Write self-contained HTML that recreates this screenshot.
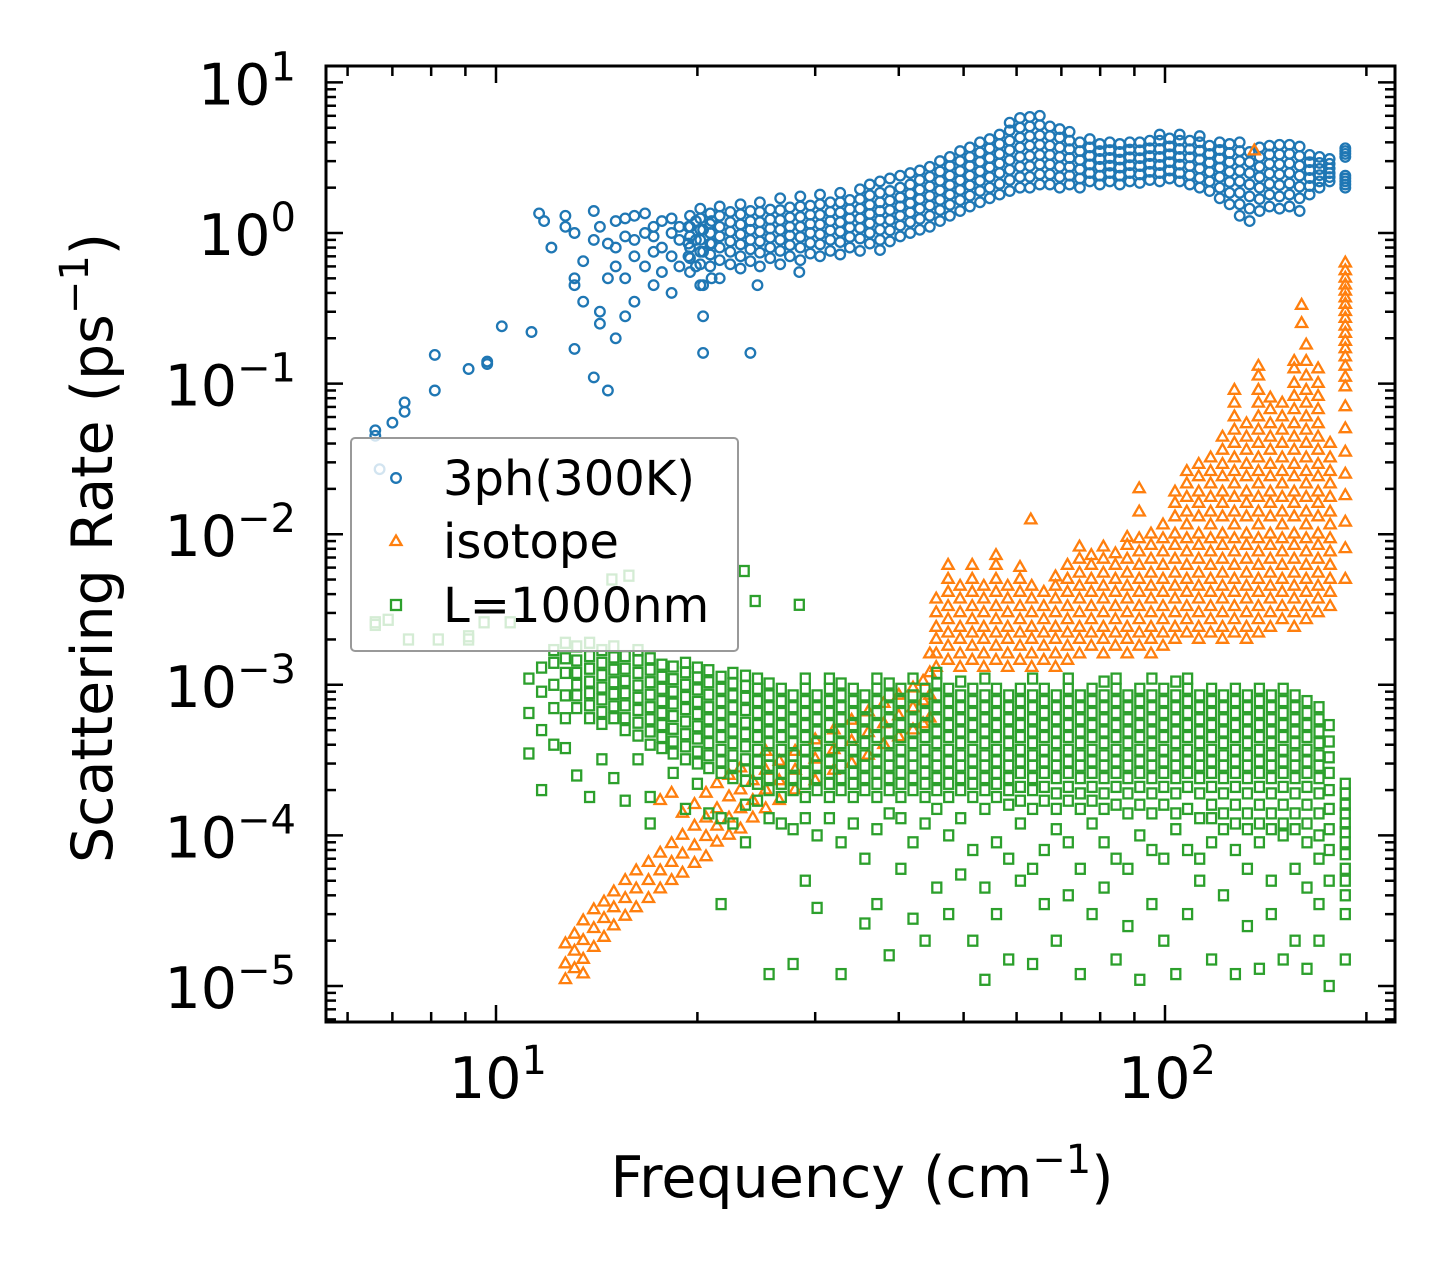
<!DOCTYPE html>
<html><head><meta charset="utf-8">
<style>
html,body{margin:0;padding:0;background:#fff;}
svg{display:block;font-family:"DejaVu Sans","Liberation Sans",sans-serif;}
</style></head>
<body>
<svg id="chart" width="1455" height="1272" viewBox="0 0 1455 1272" xmlns="http://www.w3.org/2000/svg">
<rect x="0" y="0" width="1455" height="1272" fill="#fff"/>
<g id="marks"></g>
<g id="axes"></g>
<g id="legend">
  <rect x="351" y="438" width="387" height="213" rx="4" fill="#fff" fill-opacity="0.8" stroke="#999" stroke-width="2"/>
  <circle cx="396" cy="478" r="4.8" fill="none" stroke="#1f77b4" stroke-width="2.3"/>
  <text x="443" y="495" font-size="48" fill="#000">3ph(300K)</text>
  <polygon points="396,535.5 401.5,545 390.5,545" fill="none" stroke="#ff7f0e" stroke-width="2.3"/>
  <text x="443" y="558" font-size="48" fill="#000">isotope</text>
  <rect x="391" y="600" width="10" height="10" fill="none" stroke="#2ca02c" stroke-width="2.3"/>
  <text x="443" y="622" font-size="48" fill="#000">L=1000nm</text>
</g>
<text x="862" y="1197" font-size="57" text-anchor="middle" fill="#000">Frequency (cm<tspan dy="-24" font-size="40">−1</tspan><tspan dy="24">)</tspan></text>
<text transform="translate(112,548) rotate(-90)" font-size="57" text-anchor="middle" fill="#000">Scattering Rate (ps<tspan dy="-24" font-size="40">−1</tspan><tspan dy="24">)</tspan></text>
</svg>
<script>
// ================= DATA (frequency cm^-1) =================
// 3ph, sparse low-frequency points (ps^-1)
const ph3SparseFreq = [6.6,6.7,7.0,7.3,8.1,9.1,9.7,10.2,11.3,11.6,11.8,12.1,12.7,13.1,13.5,14.0,14.3,14.7,15.1,15.6,16.1,16.7,17.2,17.7,18.3,18.8,19.4,19.9,20.4,21.0,24,24.6,28.4,37.5];
const ph3SparseRates = [[0.045,0.049],[0.027],[0.055],[0.065,0.075],[0.09,0.155],[0.125],[0.135,0.14],[0.24],[0.22],[1.35],[1.2],[0.8],[1.3,1.1],[0.45,0.5,0.17,1.0],[0.35,0.65],[1.4,0.11,0.9],[0.3,0.25,1.1],[0.09,0.5,0.85],[0.8,0.2,1.2,0.6],[1.25,0.5,0.28,0.95],[0.9,0.35,1.3,0.7],[1.35,0.6,1.0],[1.1,0.45,0.75,0.95],[0.8,1.2,0.55],[1.0,0.4,0.7,1.25],[0.6,0.9,1.1],[1.1,0.7,0.85],[0.9,0.6,1.2],[0.28,0.75,1.05,0.16,0.45],[1.2,0.5,0.85],[0.16],[0.45],[0.55],[0.77]];
// 3ph, dense band (ps^-1)
const ph3Freq = [19.5,20.2,20.9,21.6,22.4,23.2,24,24.8,25.7,26.6,
 27.5,28.5,29.5,30.5,31.6,32.7,33.8,35,36.2,37.5,
 38.8,40.2,41.6,43,44.5,46.1,47.7,49.4,51.1,52.9,
 54.7,56.6,58.6,60.7,62.8,65,67.3,69.6,72,74.6,
 77.2,79.9,82.7,85.6,88.6,91.7,94.9,98.2,101.6,105.2,
 108.9,112.7,116.6,120.7,124.9,129.3,133.8,138.5,143.3,148.3,
 153.5,158.9,164.5,170.2,176.2,186];
const ph3Rates = [
 [.55,.68,.8,.95,1.1,1.3],[.45,.62,.75,.9,1.05,1.25,1.45],[.6,.72,.85,1.0,1.15,1.35],[.5,.66,.8,.95,1.1,1.3,1.5],[.62,.75,.88,1.02,1.18,1.38],[.58,.7,.84,.98,1.14,1.33,1.55],[.65,.78,.9,1.05,1.2,1.4],[.6,.74,.88,1.02,1.18,1.38,1.6],[.68,.8,.93,1.07,1.23,1.43],[.62,.76,.9,1.05,1.22,1.42,1.7],
 [.7,.83,.96,1.1,1.27,1.48],[.66,.8,.94,1.1,1.28,1.5,1.75],[.73,.86,1.0,1.15,1.32,1.52],[.7,.84,.98,1.14,1.32,1.55,1.8],[.76,.9,1.04,1.2,1.38,1.6],[.72,.87,1.02,1.18,1.37,1.6,1.85],[.8,.94,1.09,1.25,1.44,1.66],[.76,.92,1.08,1.25,1.45,1.68,1.95],[.85,1.0,1.16,1.34,1.54,1.78,2.1],[.9,1.05,1.22,1.4,1.6,1.85,2.2],
 [.88,1.04,1.22,1.42,1.64,1.9,2.3],[.95,1.12,1.3,1.5,1.72,2.0,2.4],[1.0,1.18,1.37,1.58,1.82,2.1,2.5],[1.05,1.24,1.45,1.68,1.94,2.25,2.6],[1.1,1.3,1.52,1.76,2.04,2.36,2.75],[1.2,1.42,1.66,1.92,2.22,2.56,3.0],[1.3,1.54,1.8,2.08,2.4,2.78,3.2],[1.4,1.65,1.93,2.24,2.58,3.0,3.5],[1.5,1.77,2.07,2.4,2.78,3.2,3.7],[1.6,1.9,2.22,2.57,2.97,3.43,4.0],
 [1.7,2.0,2.35,2.73,3.15,3.65,4.2],[1.8,2.12,2.5,2.9,3.35,3.9,4.5],[1.9,2.25,2.63,3.05,3.55,4.1,4.8,5.4],[2.0,2.35,2.75,3.2,3.7,4.3,5.0,5.8],[2.0,2.36,2.78,3.25,3.8,4.4,5.1,5.9],[2.1,2.45,2.85,3.3,3.85,4.45,5.2,6.0],[2.1,2.45,2.85,3.3,3.8,4.4,5.1],[2.0,2.35,2.75,3.2,3.7,4.3,4.9],[2.1,2.4,2.75,3.15,3.6,4.1,4.7],[2.0,2.3,2.65,3.05,3.5,4.0],
 [2.2,2.5,2.85,3.25,3.7,4.2],[2.1,2.4,2.75,3.1,3.5,3.9],[2.2,2.5,2.8,3.15,3.55,4.0],[2.1,2.4,2.72,3.07,3.45,3.9],[2.2,2.5,2.82,3.18,3.58,4.0],[2.15,2.45,2.78,3.14,3.54,4.0],[2.25,2.55,2.88,3.24,3.65,4.1],[2.2,2.5,2.83,3.2,3.62,4.1,4.5],[2.3,2.6,2.95,3.33,3.76,4.25],[2.2,2.5,2.84,3.2,3.62,4.1,4.5],
 [2.1,2.42,2.78,3.18,3.6,4.1],[2.0,2.32,2.68,3.08,3.52,4.0,4.4],[1.9,2.2,2.55,2.93,3.35,3.8],[1.7,2.0,2.35,2.72,3.12,3.56,4.0],[1.55,1.85,2.18,2.55,2.96,3.4,3.9],[1.3,1.55,1.85,2.2,2.58,3.0,3.5,4.0],[1.2,1.45,1.75,2.1,2.5,2.95,3.45],[1.4,1.68,2.0,2.35,2.75,3.2,3.7],[1.5,1.8,2.12,2.48,2.88,3.32,3.8],[1.45,1.75,2.08,2.45,2.86,3.32,3.85],
 [1.5,1.8,2.13,2.5,2.9,3.35,3.85],[1.4,1.7,2.03,2.4,2.8,3.25,3.75],[1.8,2.05,2.32,2.62,2.95,3.3],[2.0,2.2,2.42,2.66,2.92,3.2],[2.2,2.35,2.5,2.68,2.88,3.1],[2.0,2.1,2.2,2.3,2.4,3.2,3.35,3.5,3.65]];

// isotope, low-frequency band (ps^-1)
const isoLowFreq = [12.7,13.1,13.5,14,14.5,15,15.6,16.2,16.9,17.6,18.3,19,19.8,20.6,21.4,22.3,23.2,24.2,25.3,26.5,28,30,32,34,36,38,40,42,43.5,44.5];
const isoLowRates = [[1.1e-5,1.4e-5,1.9e-5],[1.3e-5,1.7e-5,2.2e-5],[1.5e-5,2e-5,2.7e-5,1.2e-5],[1.8e-5,2.4e-5,3.2e-5],[2.1e-5,2.8e-5,3.6e-5],[2.5e-5,3.3e-5,4.2e-5],[2.9e-5,3.8e-5,5e-5],[3.3e-5,4.4e-5,5.8e-5],[3.8e-5,5e-5,6.6e-5],[4.4e-5,5.8e-5,7.6e-5,1.7e-4],[5e-5,6.6e-5,8.8e-5,1.9e-4],[5.6e-5,7.5e-5,1e-4,1.4e-4],[6.5e-5,8.5e-5,1.15e-4,1.6e-4],[7.2e-5,9.8e-5,1.3e-4,1.9e-4],[9e-5,1.15e-4,1.5e-4,2.2e-4],[1e-4,1.3e-4,1.8e-4,2.5e-4],[1.1e-4,1.5e-4,2e-4,2.8e-4],[1.3e-4,1.7e-4,2.3e-4],[1.5e-4,2e-4,2.7e-4,3.6e-4],[1.7e-4,2.3e-4,3.1e-4],[2e-4,2.7e-4,3.6e-4],[2.3e-4,3.2e-4,4.3e-4],[2.7e-4,3.7e-4,5e-4],[3e-4,4.2e-4,5.8e-4],[3.4e-4,4.8e-4,6.6e-4],[4e-4,5.5e-4,7.5e-4],[4.5e-4,6.2e-4,8.5e-4],[5e-4,7e-4,9.5e-4],[5.5e-4,7.8e-4,1.05e-3],[6e-4,8.5e-4,1.2e-3,1.6e-3]];
// isotope, high-frequency dense region (units of 1e-3 ps^-1)
const isoFreq = [45.5,47.4,49.4,51.5,53.6,55.9,58.2,60.7,63.2,65.9,
 68.6,71.5,74.5,77.6,80.9,84.3,87.8,91.5,95.3,99.3,
 103.5,107.8,112.3,117,121.9,127,132.4,137.9,143.7,149.7,
 156,162.6,169.4,176.5,186,
 63,136,160];
const isoRatesE3 = [
 [1.3,1.6,2.0,2.4,3.0,3.7],[1.45,1.8,2.2,2.7,3.3,4.1,5.0,6.2],[1.3,1.6,2.0,2.4,3.0,3.7,4.5],[1.45,1.8,2.2,2.7,3.3,4.1,5.0,6.2],[1.3,1.6,2.0,2.4,3.0,3.7,4.5],[1.45,1.8,2.2,2.7,3.3,4.1,5.0,6.2,7.2],[1.3,1.6,2.0,2.4,3.0,3.7,4.5],[1.45,1.8,2.2,2.7,3.3,4.1,5.0,6.0],[1.3,1.6,2.0,2.4,3.0,3.7,4.5],[1.45,1.8,2.2,2.7,3.3,4.1],
 [1.3,1.6,2.0,2.4,3.0,3.7,4.5,5.2],[1.45,1.8,2.2,2.7,3.3,4.1,5.0,6.2],[1.6,2.0,2.4,3.0,3.7,4.5,5.5,6.8,8.2],[1.8,2.2,2.7,3.3,4.1,5.0,6.2,7.2],[1.6,2.0,2.4,3.0,3.7,4.5,5.5,6.8,8.2],[1.8,2.2,2.7,3.3,4.1,5.0,6.2,7.4],[1.6,2.0,2.4,3.0,3.7,4.5,5.5,6.8,8.4,9.5],[1.8,2.2,2.7,3.3,4.1,5.0,6.2,7.6,9.3,14,20],[1.6,2.0,2.4,3.0,3.7,4.5,5.5,6.8,8.4,10],[1.8,2.2,2.7,3.3,4.1,5.0,6.2,7.6,9.3,11.5],
 [2.0,2.4,3.0,3.7,4.5,5.5,6.8,8.4,10,13,16,19],[2.2,2.7,3.3,4.1,5.0,6.2,7.6,9.3,11.5,14,17.5,21.5,26],[2.0,2.4,3.0,3.7,4.5,5.5,6.8,8.4,10,13,16,19,24,29],[2.2,2.7,3.3,4.1,5.0,6.2,7.6,9.3,11.5,14,17.5,21.5,26,32],[2.0,2.4,3.0,3.7,4.5,5.5,6.8,8.4,10,13,16,19,24,29,36,44],[2.2,2.7,3.3,4.1,5.0,6.2,7.6,9.3,11.5,14,17.5,21.5,26,32,40,49,60,74,90],[2.0,2.4,3.0,3.7,4.5,5.5,6.8,8.4,10,13,16,19,24,29,36,44,54],[2.2,2.7,3.3,4.1,5.0,6.2,7.6,9.3,11.5,14,17.5,21.5,26,32,40,49,60,74,90,112,130],[2.4,3.0,3.7,4.5,5.5,6.8,8.4,10,13,16,19,24,29,36,44,54,67,80],[2.7,3.3,4.1,5.0,6.2,7.6,9.3,11.5,14,17.5,21.5,26,32,40,49,60,74],
 [2.4,3.0,3.7,4.5,5.5,6.8,8.4,10,13,16,19,24,29,36,44,54,67,82,100,125,140],[2.7,3.3,4.1,5.0,6.2,7.6,9.3,11.5,14,17.5,21.5,26,32,40,49,60,74,90,112,140,180],[3.0,3.7,4.5,5.5,6.8,8.4,10,13,16,19,24,29,36,44,54,67,82,100,125],[3.3,4.1,5.0,6.2,7.6,9.3,11.5,14,17.5,21.5,26,32,40],[5,8,12,18,25,35,50,70,95,110,130,150,170,190,215,240,270,300,335,370,410,450,500,560,630],
 [12.4],[3500],[250,330]];

// boundary L=1000nm (units of 1e-4 ps^-1)
const bndFreq = [11.2,11.7,12.2,12.7,13.2,13.8,14.4,15,15.6,16.3,
 17,17.7,18.4,19.2,20,20.8,21.7,22.6,23.6,24.6,
 25.6,26.7,27.8,29,30.2,31.5,32.8,34.2,35.6,37.1,
 38.7,40.3,42,43.8,45.6,47.5,49.5,51.6,53.8,56,
 58.4,60.8,63.4,66,68.8,71.7,74.7,77.8,81.1,84.5,
 88,91.7,95.6,99.6,103.8,108.1,112.7,117.4,122.3,127.4,
 132.8,138.4,144.2,150.2,156.5,163,169.9,176,186,
 6.6,6.9,7.4,8.2,9.1,9.6,10.5,14.9,15.8,23.5,24.4,28.4];
const bndRatesE4 = [
 [3.5,6.5,11],[2.0,5,9,13],[4,7,10,14,17],[3.8,6,8.5,12,15,19],[2.5,7,8.5,10,12,14.5,18],[1.8,6,7.3,8.8,10.5,12.8,15.5,19],[3.2,5.5,6.6,8,9.6,11.6,14,17],[2.4,6,7.2,8.7,10.4,12.6,15.2,18],[1.7,5,6,7.3,8.8,10.6,12.8,15.5],[3.2,4.6,5.6,6.8,8.2,9.9,12,14.5,17],
 [1.2,1.8,4,4.9,5.9,7.1,8.6,10.4,12.6,15],[3.8,4.5,5.4,6.5,7.8,9.4,11.3,13.6],[2.6,3.5,4.2,5.1,6.2,7.5,9,10.9,13.2],[1.5,3.2,3.9,4.7,5.7,6.9,8.3,10,12.1,14],[2.2,3,3.6,4.4,5.3,6.4,7.7,9.3,11.2,13],[1.4,2.8,3.4,4.1,4.9,5.9,7.1,8.6,10.4,12.5],[0.35,1.3,2.6,3.1,3.7,4.5,5.4,6.5,7.8,9.4,11.3],[1.2,2.4,2.9,3.4,4.1,4.9,5.9,7.1,8.5,10.2,12],[0.9,1.6,2.3,2.7,3.2,3.9,4.7,5.6,6.8,8.2,9.8,11.5],[1.7,2.2,2.6,3.1,3.7,4.5,5.4,6.5,7.8,9.4,11],
 [0.12,1.3,2.0,2.4,2.9,3.4,4.1,4.9,5.9,7.1,8.5,10.2],[1.2,1.8,2.2,2.6,3.1,3.7,4.5,5.4,6.5,7.8,9.4],[0.14,1.1,2.0,2.4,2.9,3.4,4.1,4.9,5.9,7.1,8.5],[0.5,1.3,1.8,2.2,2.6,3.1,3.7,4.5,5.4,6.5,7.8,9.4,11],[0.33,1.0,2.0,2.4,2.9,3.4,4.1,4.9,5.9,7.1,8.5],[1.3,1.8,2.2,2.6,3.1,3.7,4.5,5.4,6.5,7.8,9.4,11],[0.12,0.9,2.0,2.4,2.9,3.4,4.1,4.9,5.9,7.1,8.5,10.2],[1.2,1.8,2.2,2.6,3.1,3.7,4.5,5.4,6.5,7.8,9.4],[0.26,0.7,2.0,2.4,2.9,3.4,4.1,4.9,5.9,7.1,8.5],[0.35,1.1,1.8,2.2,2.6,3.1,3.7,4.5,5.4,6.5,7.8,9.4,11],
 [0.16,1.4,2.0,2.4,2.9,3.4,4.1,4.9,5.9,7.1,8.5,10.2],[0.6,1.3,1.8,2.2,2.6,3.1,3.7,4.5,5.4,6.5,7.8,9.4],[0.28,0.9,2.0,2.4,2.9,3.4,4.1,4.9,5.9,7.1,8.5,11],[0.2,1.2,1.8,2.2,2.6,3.1,3.7,4.5,5.4,6.5,7.8,9.4],[0.45,1.5,2.0,2.4,2.9,3.4,4.1,4.9,5.9,7.1,8.5,10.2,12],[0.3,1.0,1.8,2.2,2.6,3.1,3.7,4.5,5.4,6.5,7.8,9.4],[0.55,1.3,2.0,2.4,2.9,3.4,4.1,4.9,5.9,7.1,8.5,10.5],[0.2,0.8,1.8,2.2,2.6,3.1,3.7,4.5,5.4,6.5,7.8,9.4],[0.11,0.45,1.5,2.0,2.4,2.9,3.4,4.1,4.9,5.9,7.1,8.5,11],[0.3,0.9,1.8,2.2,2.6,3.1,3.7,4.5,5.4,6.5,7.8,9.4],
 [0.15,0.7,1.6,2.0,2.4,2.9,3.4,4.1,4.9,5.9,7.1,8.5],[0.5,1.2,1.7,2.1,2.6,3.1,3.7,4.5,5.4,6.5,7.8,9.4],[0.14,0.6,1.5,2.0,2.4,2.9,3.4,4.1,4.9,5.9,7.1,8.5,11],[0.35,0.8,1.7,2.1,2.6,3.1,3.7,4.5,5.4,6.5,7.8,9.4],[0.2,1.1,1.5,1.9,2.4,2.9,3.4,4.1,4.9,5.9,7.1,8.5],[0.4,0.9,1.7,2.1,2.6,3.1,3.7,4.5,5.4,6.5,7.8,9.4,11],[0.12,0.6,1.5,1.9,2.4,2.9,3.4,4.1,4.9,5.9,7.1,8.5],[0.3,1.2,1.7,2.1,2.6,3.1,3.7,4.5,5.4,6.5,7.8,9.4],[0.45,0.9,1.5,1.9,2.4,2.9,3.4,4.1,4.9,5.9,7.1,8.5,10.5],[0.15,0.7,1.6,2.1,2.6,3.1,3.7,4.5,5.4,6.5,7.8,9.4,11],
 [0.25,0.6,1.4,1.9,2.4,2.9,3.4,4.1,4.9,5.9,7.1,8.5],[0.11,1.0,1.6,2.1,2.6,3.1,3.7,4.5,5.4,6.5,7.8,9.4],[0.35,0.8,1.4,1.9,2.4,2.9,3.4,4.1,4.9,5.9,7.1,8.5,11],[0.2,0.7,1.6,2.1,2.6,3.1,3.7,4.5,5.4,6.5,7.8,9.4],[0.12,1.1,1.4,1.9,2.4,2.9,3.4,4.1,4.9,5.9,7.1,8.5,10.5],[0.3,0.8,1.5,2.1,2.6,3.1,3.7,4.5,5.4,6.5,7.8,9.4,11],[0.5,0.7,1.3,1.9,2.4,2.9,3.4,4.1,4.9,5.9,7.1,8.5],[0.15,0.9,1.3,1.6,2.1,2.6,3.1,3.7,4.5,5.4,6.5,7.8,9.4],[0.4,1.1,1.4,1.9,2.4,2.9,3.4,4.1,4.9,5.9,7.1,8.5],[0.12,0.8,1.2,1.6,2.1,2.6,3.1,3.7,4.5,5.4,6.5,7.8,9.4],
 [0.25,0.6,1.1,1.4,1.9,2.4,2.9,3.4,4.1,4.9,5.9,7.1,8.5],[0.13,0.9,1.2,1.6,2.1,2.6,3.1,3.7,4.5,5.4,6.5,7.8,9.4],[0.3,0.5,1.1,1.4,1.9,2.4,2.9,3.4,4.1,4.9,5.9,7.1,8.5],[0.15,1.0,1.2,1.6,2.1,2.6,3.1,3.7,4.5,5.4,6.5,7.8,9.4],[0.2,0.6,1.1,1.4,1.9,2.4,2.9,3.4,4.1,4.9,5.9,7.1,8.5],[0.13,0.45,0.9,1.2,1.6,2.1,2.6,3.1,3.7,4.5,5.4,6.5,7.8],[0.2,0.35,0.7,1.0,1.4,1.9,2.4,2.9,3.4,4.1,4.9,5.9,7.1],[0.1,0.5,0.8,1.1,1.5,2.0,2.6,3.3,4.2,5.4],[0.15,0.3,0.4,0.5,0.6,0.75,0.9,1.05,1.2,1.4,1.6,1.9,2.2],
 [26,25],[27],[20],[20],[20,21],[26],[26],[50],[53],[57],[36],[34]];

// axes ticks
const xDecadeTicks = [10, 100];
const yDecadeTicks = [1e-5,1e-4,1e-3,1e-2,1e-1,1,10];
const xTickExp = ['1','2'];
const yTickExp = ['−5','−4','−3','−2','−1','0','1'];

// ================= RENDER =================
const PL=326, PR=1395, PT=66, PB=1022;
const X0=496, XD=669, Y0=233, YD=150.6;
function X(f){ return X0 + XD*(Math.log10(f)-1); }
function Y(r){ return Y0 - YD*Math.log10(r); }

const NS='http://www.w3.org/2000/svg';
function mk(tag, attrs, parent){
  const e=document.createElementNS(NS,tag);
  for(const k in attrs) e.setAttribute(k, attrs[k]);
  parent.appendChild(e); return e;
}
const marks=document.getElementById('marks');
const axes=document.getElementById('axes');

function drawCircles(g, freqs, rates, scale){
  freqs.forEach((f,i)=>{ (rates[i]||[]).forEach(v=>{
    const c=mk('circle',{cx:X(f).toFixed(1),cy:Y(v*scale).toFixed(1),r:4.8,fill:'none',stroke:'#1f77b4','stroke-width':2.3},g);
    
    
  });});
}
function drawTriangles(g, freqs, rates, scale){
  freqs.forEach((f,i)=>{ (rates[i]||[]).forEach(v=>{
    const x=X(f), y=Y(v*scale);
    const p=mk('polygon',{points:`${x.toFixed(1)},${(y-6.5).toFixed(1)} ${(x+5.6).toFixed(1)},${(y+3.3).toFixed(1)} ${(x-5.6).toFixed(1)},${(y+3.3).toFixed(1)}`,fill:'none',stroke:'#ff7f0e','stroke-width':2.3},g);
    
    
  });});
}
function drawSquares(g, freqs, rates, scale){
  freqs.forEach((f,i)=>{ (rates[i]||[]).forEach(v=>{
    const s=mk('rect',{x:(X(f)-4.5).toFixed(1),y:(Y(v*scale)-5).toFixed(1),width:9,height:10,fill:'none',stroke:'#2ca02c','stroke-width':2.3},g);
    
    
  });});
}

const g1=mk('g',{},marks);


drawCircles(g1, ph3SparseFreq, ph3SparseRates, 1);
drawCircles(g1, ph3Freq, ph3Rates, 1);

const g2=mk('g',{},marks);


drawTriangles(g2, isoLowFreq, isoLowRates, 1);
drawTriangles(g2, isoFreq, isoRatesE3, 1e-3);

const g3=mk('g',{},marks);


drawSquares(g3, bndFreq, bndRatesE4, 1e-4);

// frame
const fr=mk('rect',{x:PL,y:PT,width:PR-PL,height:PB-PT,fill:'none',stroke:'#000','stroke-width':3},axes);



for(let d=0; d<=2; d++){
  for(let m=1;m<=9;m++){
    const f=m*Math.pow(10,d);
    const x=X(f);
    if(x<PL+1||x>PR-1) continue;
    const len=(m===1)?17:10;
    mk('line',{x1:x,y1:PB,x2:x,y2:PB-len,stroke:'#000','stroke-width':2.5},axes);
    mk('line',{x1:x,y1:PT,x2:x,y2:PT+len,stroke:'#000','stroke-width':2.5},axes);
  }
}
xDecadeTicks.forEach((f,i)=>{
  const t=mk('text',{x:X(f)+2,y:1098,'font-size':57,'text-anchor':'middle',fill:'#000'},axes);
  t.innerHTML='10<tspan dy="-24" font-size="40">'+xTickExp[i]+'</tspan>';
  
  
});
for(let d=-6; d<=1; d++){
  for(let m=1;m<=9;m++){
    const r=m*Math.pow(10,d);
    const y=Y(r);
    if(y<PT+1||y>PB-1) continue;
    const len=(m===1)?17:10;
    mk('line',{x1:PL,y1:y,x2:PL+len,y2:y,stroke:'#000','stroke-width':2.5},axes);
    mk('line',{x1:PR,y1:y,x2:PR-len,y2:y,stroke:'#000','stroke-width':2.5},axes);
  }
}
yDecadeTicks.forEach((r,i)=>{
  const t=mk('text',{x:296,y:Y(r)+22,'font-size':57,'text-anchor':'end',fill:'#000'},axes);
  t.innerHTML='10<tspan dy="-24" font-size="40">'+yTickExp[i]+'</tspan>';
  
  
});
</script>
</body></html>
